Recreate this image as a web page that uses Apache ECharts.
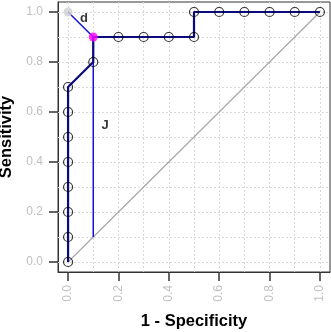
<!DOCTYPE html>
<html>
<head>
<meta charset="utf-8">
<script src="https://cdn.jsdelivr.net/npm/echarts@6/dist/echarts.min.js"></script>
<style>
  html, body { margin: 0; padding: 0; background: #fff; }
  #main { width: 331px; height: 332px; }
</style>
</head>
<body>
<div id="main"></div>
<script>
// ROC curve points (1 - specificity, sensitivity)
var fpr = [0, 0, 0, 0, 0, 0, 0, 0, 0.1, 0.1, 0.2, 0.3, 0.4, 0.5, 0.5, 0.6, 0.7, 0.8, 0.9, 1];
var tpr = [0, 0.1, 0.2, 0.3, 0.4, 0.5, 0.6, 0.7, 0.8, 0.9, 0.9, 0.9, 0.9, 0.9, 1, 1, 1, 1, 1, 1];
// optimal cut point and the ideal corner
var best = [0.1, 0.9];
var ideal = [0, 1];
// Youden J segment
var jLine = [[0.1, 0.1], [0.1, 0.9]];
var diag = [[0, 0], [1, 1]];
var tickVals = [0, 0.2, 0.4, 0.6, 0.8, 1];
var gridVals = [0, 0.1, 0.2, 0.3, 0.4, 0.5, 0.6, 0.7, 0.8, 0.9, 1];

var myChart = echarts.init(document.getElementById('main'));

var rocPts = fpr.map(function (x, i) { return [x, tpr[i]]; });
var rocPtsOpen = rocPts.filter(function (p) { return !(p[0] === best[0] && p[1] === best[1]); });

var gridMarks = [];
gridVals.forEach(function (v) {
  gridMarks.push({ xAxis: v });
  gridMarks.push({ yAxis: v });
});

function fmt(v) { return v.toFixed(1); }

var option = {
  animation: false,
  grid: {
    left: 58, top: 2, width: 272, height: 270,
    outerBoundsMode: 'none', containLabel: false,
    show: true, borderColor: '#333', borderWidth: 1, backgroundColor: 'transparent'
  },
  xAxis: {
    type: 'value', min: -0.04, max: 1.04,
    name: '1 - Specificity', nameLocation: 'middle', nameGap: 41,
    nameTextStyle: { fontFamily: 'Liberation Sans', fontWeight: 'bold', fontSize: 16.5, color: '#000' },
    axisLine: { show: true, onZero: false, lineStyle: { color: '#333' } },
    axisTick: { show: true, length: 9, customValues: tickVals, lineStyle: { color: '#333', width: 1.5 } },
    axisLabel: { customValues: tickVals, rotate: 90, margin: 13, formatter: fmt,
      fontFamily: 'Liberation Sans', fontSize: 12, color: '#c0c0c0' },
    splitLine: { show: false }
  },
  yAxis: {
    type: 'value', min: -0.04, max: 1.04,
    name: 'Sensitivity', nameLocation: 'middle', nameGap: 39,
    nameTextStyle: { fontFamily: 'Liberation Sans', fontWeight: 'bold', fontSize: 16.5, color: '#000' },
    axisLine: { show: true, onZero: false, lineStyle: { color: '#333' } },
    axisTick: { show: true, length: 9, customValues: tickVals, lineStyle: { color: '#333', width: 1.5 } },
    axisLabel: { customValues: tickVals, margin: 15, formatter: fmt,
      fontFamily: 'Liberation Sans', fontSize: 12, color: '#c0c0c0' },
    splitLine: { show: false }
  },
  series: [
    {
      name: 'grid', type: 'line', data: [], silent: true, z: 1,
      markLine: {
        silent: true, symbol: 'none', label: { show: false }, z: 1,
        lineStyle: { color: '#dadada', type: [2, 2], width: 1 },
        data: gridMarks
      }
    },
    {
      name: 'diag', type: 'line', data: diag, symbol: 'none', silent: true, z: 3,
      lineStyle: { color: '#a8a8a8', width: 1.2 }
    },
    {
      name: 'J', type: 'line', data: jLine, symbol: 'none', silent: true, z: 4,
      lineStyle: { color: '#1414d8', width: 1.5 }
    },
    {
      name: 'd', type: 'line', data: [ideal, best], symbol: 'none', silent: true, z: 4,
      lineStyle: { color: '#1414d8', width: 1.5 }
    },
    {
      name: 'ROC', type: 'line', data: rocPts, symbol: 'none', silent: true, z: 5,
      lineStyle: { color: '#0a0a80', width: 2.2 }
    },
    {
      name: 'points', type: 'scatter', data: rocPtsOpen, symbol: 'circle', symbolSize: 9, z: 6,
      itemStyle: { color: 'rgba(0,0,0,0)', borderColor: '#000', borderWidth: 1.2 }
    },
    {
      name: 'ideal', type: 'scatter', data: [ideal], symbol: 'circle', symbolSize: 9, z: 6,
      itemStyle: { color: '#cfcfcf' }
    },
    {
      name: 'best', type: 'scatter', data: [best], symbol: 'circle', symbolSize: 9, z: 7,
      itemStyle: { color: '#ff00ff' }
    },
    {
      name: 'labels', type: 'scatter', symbolSize: 0, silent: true, z: 8,
      data: [
        { value: [0.063, 0.975], name: 'd' },
        { value: [0.147, 0.548], name: 'J' }
      ],
      label: {
        show: true, position: 'inside', formatter: '{b}',
        fontFamily: 'Liberation Sans', fontWeight: 'bold', fontSize: 13, color: '#000'
      }
    }
  ]
};

option && myChart.setOption(option);
</script>
</body>
</html>
